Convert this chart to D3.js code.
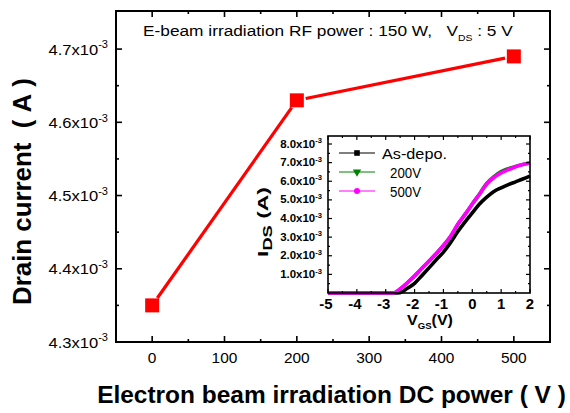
<!DOCTYPE html>
<html><head><meta charset="utf-8">
<script src="https://cdn.jsdelivr.net/npm/d3@7"></script>
<style>body{margin:0;background:#fff}svg{display:block}text{font-family:Arial,"Liberation Sans",sans-serif;fill:#000;white-space:pre}</style>
</head><body><svg id="c" width="570" height="413"></svg>
<script>
// ---- data ----
const dcPower = [0, 200, 500];
const drainCurrent = [4.35, 4.63, 4.69]; // x10^-3 A
const mainXTicks = [0, 100, 200, 300, 400, 500];
const mainXMinor = [50, 150, 250, 350, 450];
const mainYTicks = [4.3, 4.4, 4.5, 4.6, 4.7];
const mainYMinor = [4.35, 4.45, 4.55, 4.65];

const vgs = [-5,-4.5,-4,-3.5,-3,-2.75,-2.5,-2.25,-2,-1.75,-1.5,-1.25,-1,-0.75,-0.5,-0.25,0,0.25,0.5,0.75,1,1.25,1.5,1.75,2];
const idsAsDepo = [0,0,0,0,0,0,0.02,0.25,0.52,0.93,1.35,1.78,2.2,2.72,3.3,3.82,4.3,4.78,5.15,5.45,5.65,5.82,5.97,6.12,6.28];
const ids200 = [0,0,0,0,0,0,0.21,0.54,0.91,1.31,1.71,2.11,2.55,3.04,3.68,4.22,4.78,5.32,5.88,6.25,6.52,6.68,6.8,6.9,6.98];
const ids500 = [0,0,0,0,0,0,0.22,0.55,0.92,1.32,1.72,2.12,2.56,3.05,3.7,4.22,4.78,5.3,5.85,6.2,6.45,6.62,6.78,6.9,6.98];
const insetXTicks = [-5,-4,-3,-2,-1,0,1,2];
const insetXMinor = [-4.5,-3.5,-2.5,-1.5,-0.5,0.5,1.5];
const insetYTicks = [1,2,3,4,5,6,7,8];
const insetYMinor = [0.5,1.5,2.5,3.5,4.5,5.5,6.5,7.5];
const legendNames = ["As-depo.", "200V", "500V"];
const seriesColors = ["#000000", "#008000", "#ff00ff"];

// ---- helpers ----
const svg = d3.select("#c");
function fit(t, x, y, width, rot) {
  const w = t.node().getBBox().width;
  const s = width ? width / w : 1;
  t.attr("x", 0).attr("y", 0)
   .attr("transform", `translate(${x},${y})` + (rot ? ` rotate(${rot})` : "") + ` scale(${s},1)`);
  return t;
}
function sci(g, x, y, str, size, supSize, weight, width) {
  const t = g.append("text").attr("text-anchor", "end").style("font-size", size + "px").style("font-weight", weight);
  t.append("tspan").text(str);
  t.append("tspan").attr("dy", -size * 0.42).style("font-size", supSize + "px").text("-3");
  fit(t, x, y, width);
}

// ---- main chart ----
const L = 116, R = 550, T = 11, B = 342;
const x = d3.scaleLinear().domain([-50, 550]).range([L, R]);
const y = d3.scaleLinear().domain([4.3, 4.752]).range([B, T]);

const ax = svg.append("g").attr("stroke", "#000");
function ticksX(g, sc, vals, yy, len) {
  g.selectAll(null).data(vals).join("line")
    .attr("x1", d => sc(d)).attr("x2", d => sc(d)).attr("y1", yy).attr("y2", yy + len);
}
function ticksY(g, sc, vals, xx, len) {
  g.selectAll(null).data(vals).join("line")
    .attr("y1", d => sc(d)).attr("y2", d => sc(d)).attr("x1", xx).attr("x2", xx + len);
}
ax.attr("stroke-width", 1.6);
ticksX(ax, x, mainXTicks, B, -6); ticksX(ax, x, mainXMinor, B, -3);
ticksX(ax, x, mainXTicks, T, 6); ticksX(ax, x, mainXMinor, T, 3);
ticksY(ax, y, mainYTicks, L, 6); ticksY(ax, y, mainYMinor, L, 3);
ticksY(ax, y, mainYTicks, R, -6); ticksY(ax, y, mainYMinor, R, -3);
svg.append("rect").attr("x", L).attr("y", T).attr("width", R - L).attr("height", B - T)
  .attr("fill", "none").attr("stroke", "#000").attr("stroke-width", 2);

// tick labels
mainXTicks.forEach(v => {
  const t = svg.append("text").attr("text-anchor", "middle").style("font-size", "15px").text(v);
  fit(t, x(v), 363, (String(v).length) * 8.6);
});
mainYTicks.forEach(v => sci(svg, 108, y(v) + 5.5, v.toFixed(1) + "x10", 15, 10, "normal", 60));

// line with gaps near markers
const pts = dcPower.map((d, i) => [x(d), y(drainCurrent[i])]);
const gap = 9;
for (let i = 0; i < pts.length - 1; i++) {
  const [x1, y1] = pts[i], [x2, y2] = pts[i + 1];
  const dx = x2 - x1, dy = y2 - y1, len = Math.hypot(dx, dy);
  const ux = dx / len, uy = dy / len;
  svg.append("line").attr("x1", x1 + ux * gap).attr("y1", y1 + uy * gap)
    .attr("x2", x2 - ux * gap).attr("y2", y2 - uy * gap)
    .attr("stroke", "#ff0000").attr("stroke-width", 3.2);
}
svg.selectAll(".m").data(dcPower).join("rect")
  .attr("x", d => x(d) - 7).attr("y", (d, i) => y(drainCurrent[i]) - 7)
  .attr("width", 14).attr("height", 14).attr("fill", "#ff0000");

// annotation
{
  const t = svg.append("text").style("font-size", "15px");
  t.append("tspan").text("E-beam irradiation RF power : 150 W,\u00a0\u00a0\u00a0V");
  t.append("tspan").attr("dy", 5).style("font-size", "9px").text("DS");
  t.append("tspan").attr("dy", -5).text(" : 5 V");
  fit(t, 143, 36, 370);
}

// axis titles
fit(svg.append("text").attr("text-anchor", "middle").style("font-size", "24px").style("font-weight", "bold")
  .text("Electron beam irradiation DC power ( V )"), 331.5, 403, 469);
fit(svg.append("text").attr("text-anchor", "middle").style("font-size", "25px").style("font-weight", "bold")
  .text("Drain current\u00a0\u00a0(\u00a0A\u00a0)"), 31, 191.5, 227, -90);

// ---- inset ----
const iL = 328, iR = 530, iT = 136, iB = 293;
const xi = d3.scaleLinear().domain([-5, 2]).range([iL, iR]);
const yi = d3.scaleLinear().domain([0, 8.43]).range([iB, iT]);
svg.append("rect").attr("x", iL).attr("y", iT).attr("width", iR - iL).attr("height", iB - iT).attr("fill", "#fff");

const line = d3.line().x((d, i) => xi(vgs[i])).y(d => yi(d)).curve(d3.curveMonotoneX);
[idsAsDepo, ids200, ids500].forEach((s, k) => {
  svg.append("path").attr("d", line(s)).attr("fill", "none")
    .attr("stroke", seriesColors[k]).attr("stroke-width", 3.6).attr("stroke-linejoin", "round");
});

const ai = svg.append("g").attr("stroke", "#000").attr("stroke-width", 1.2);
ticksX(ai, xi, insetXTicks, iB, -4); ticksX(ai, xi, insetXMinor, iB, -2);
ticksX(ai, xi, insetXTicks, iT, 4); ticksX(ai, xi, insetXMinor, iT, 2);
ticksY(ai, yi, insetYTicks, iL, 4); ticksY(ai, yi, insetYMinor, iL, 2);
ticksY(ai, yi, insetYTicks, iR, -4); ticksY(ai, yi, insetYMinor, iR, -2);
svg.append("rect").attr("x", iL).attr("y", iT).attr("width", iR - iL).attr("height", iB - iT)
  .attr("fill", "none").attr("stroke", "#000").attr("stroke-width", 1.6);

insetXTicks.forEach(v => {
  const t = svg.append("text").attr("text-anchor", "middle").style("font-size", "14px").style("font-weight", "bold").text(v);
  fit(t, xi(v) - (v < 0 ? 2 : 0), 308.5, v < 0 ? 13.5 : 8.5);
});
insetYTicks.forEach(v => sci(svg, 322, yi(v) + 3.6, v.toFixed(1) + "x10", 10.5, 7, "bold", 42));

// inset titles
{
  const t = svg.append("text").attr("text-anchor", "middle").style("font-size", "15px").style("font-weight", "bold");
  t.append("tspan").text("V");
  t.append("tspan").attr("dy", 4).style("font-size", "9px").text("GS");
  t.append("tspan").attr("dy", -4).text("(V)");
  fit(t, 430, 325, 46);
}
{
  const t = svg.append("text").attr("text-anchor", "middle").style("font-size", "15px").style("font-weight", "bold");
  t.append("tspan").text("I");
  t.append("tspan").attr("dy", 4).style("font-size", "12px").text("DS");
  t.append("tspan").attr("dy", -4).text("\u00a0(A)");
  fit(t, 268, 222, 70, -90);
}

// legend
const lg = svg.append("g");
const ly = [153, 172, 191];
legendNames.forEach((n, k) => {
  lg.append("line").attr("x1", 339).attr("x2", 375).attr("y1", ly[k]).attr("y2", ly[k])
    .attr("stroke", seriesColors[k]).attr("stroke-width", 1.2);
  const cx = 357, cy = ly[k];
  if (k === 0) lg.append("rect").attr("x", cx - 2.8).attr("y", cy - 2.8).attr("width", 5.6).attr("height", 5.6).attr("fill", seriesColors[k]);
  else if (k === 1) lg.append("path").attr("d", d3.symbol(d3.symbolTriangle, 30)()).attr("transform", `translate(${cx},${cy}) rotate(180)`).attr("fill", seriesColors[k]);
  else lg.append("circle").attr("cx", cx).attr("cy", cy).attr("r", 3).attr("fill", seriesColors[k]);
  const t = lg.append("text").style("font-size", "15px").text(n);
  fit(t, k === 0 ? 382 : 390, ly[k] + 5.5, k === 0 ? 65 : 31);
});
</script></body></html>
